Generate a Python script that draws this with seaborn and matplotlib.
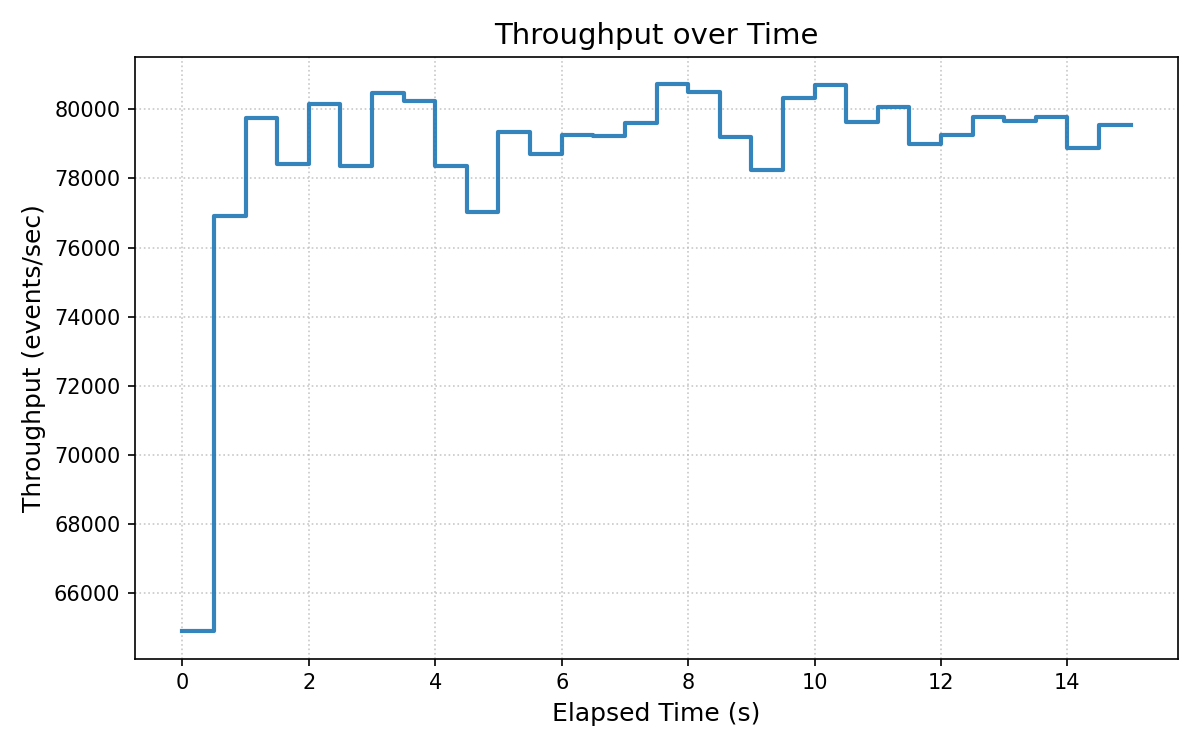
import numpy as np
import pandas as pd
import matplotlib
matplotlib.use("Agg")
import matplotlib.pyplot as plt
import seaborn as sns

# Data (one sample every 0.5 s, held until next sample)
elapsed_s = [0.0, 0.5, 1.0, 1.5, 2.0, 2.5, 3.0, 3.5, 4.0, 4.5, 5.0, 5.5, 6.0, 6.5, 7.0, 7.5,
             8.0, 8.5, 9.0, 9.5, 10.0, 10.5, 11.0, 11.5, 12.0, 12.5, 13.0, 13.5, 14.0, 14.5, 15.0]
throughput = [64900, 76920, 79750, 78410, 80150, 78360, 80460, 80240, 78360, 77040, 79340,
              78700, 79250, 79220, 79600, 80730, 80510, 79190, 78240, 80330, 80700, 79630,
              80070, 78990, 79250, 79780, 79670, 79780, 78880, 79560, 79560]

df = pd.DataFrame({"Elapsed Time (s)": elapsed_s, "Throughput": throughput})

# plain matplotlib look (black text and spines), no seaborn theme
plt.rcParams["font.family"] = ["DejaVu Sans"]

fig, ax = plt.subplots(figsize=(8, 5), dpi=150)
sns.lineplot(data=df, x="Elapsed Time (s)", y="Throughput", ax=ax,
             drawstyle="steps-post", color="tab:blue", alpha=0.9, linewidth=2.0)

ax.grid(True, linestyle=":", color="#bbbbbb", linewidth=0.8, alpha=0.8)

ax.set_title("Throughput over Time", fontsize=14)
ax.set_xlabel("Elapsed Time (s)", fontsize=12)
ax.set_ylabel("Throughput (events/sec)", fontsize=12)
ax.tick_params(labelsize=10)

fig.subplots_adjust(left=0.1125, right=0.9817, top=0.9244, bottom=0.1217)
fig.savefig("out.png", dpi=150)
